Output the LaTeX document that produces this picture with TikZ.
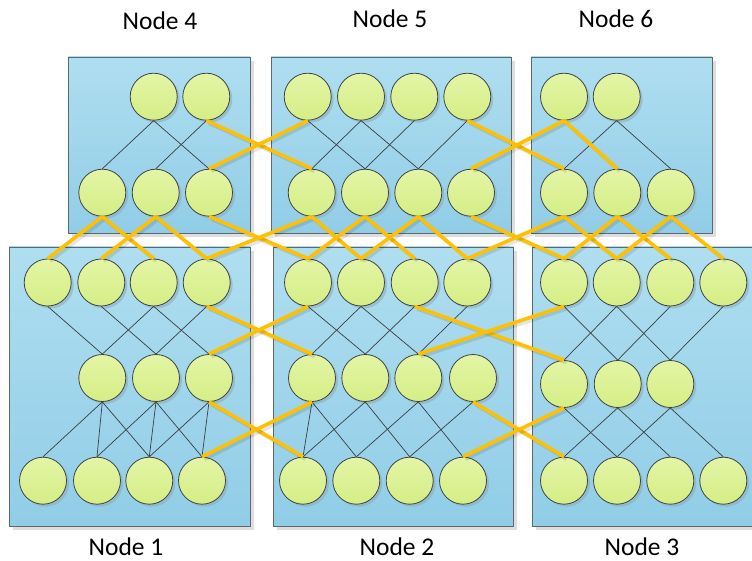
\documentclass[tikz,border=0pt]{standalone}
\usepackage{fontspec}
\setmainfont{Carlito}
\usetikzlibrary{shadows}

\definecolor{panelTop}{HTML}{AFDEF0}
\definecolor{panelBot}{HTML}{91CDE7}
\definecolor{panelEdge}{HTML}{5C686D}
\definecolor{ballTop}{HTML}{E3F5A6}
\definecolor{ballBot}{HTML}{D5EE85}
\definecolor{ballEdge}{HTML}{3F4345}
\definecolor{ballShade}{HTML}{8FA9B5}
\definecolor{wireGray}{HTML}{3A3E40}
\definecolor{linkOrange}{HTML}{FFC000}

\begin{document}
\begin{tikzpicture}[x=1pt,y=-1pt,
  panel/.style={rectangle, draw=panelEdge, line width=0.9pt,
    top color=panelTop, bottom color=panelBot, inner sep=0pt,
    drop shadow={shadow xshift=4pt, shadow yshift=-4pt, fill=black, opacity=0.13}},
  ball/.style={circle, draw=ballEdge, line width=0.8pt, minimum size=47pt,
    inner sep=0pt, top color=ballTop, bottom color=ballBot,
    drop shadow={shadow xshift=2.5pt, shadow yshift=-2.5pt, fill=ballShade, opacity=0.55}},
  wire/.style={draw=wireGray, line width=0.7pt},
  bridge/.style={draw=linkOrange, line width=3.6pt,
    preaction={draw=black, draw opacity=0.1, line width=3.6pt,
      transform canvas={xshift=2.5pt, yshift=-2.5pt}}},
  caption/.style={font=\fontsize{25.5}{28}\selectfont, inner sep=0pt, text=black}
]
\clip (0,0) rectangle (752,561);
\fill[white] (0,0) rectangle (752,561);

% panels
\node[panel, minimum width=182pt, minimum height=176pt] (box4) at (159,145) {};
\node[panel, minimum width=240pt, minimum height=176pt] (box5) at (391,145) {};
\node[panel, minimum width=181pt, minimum height=176pt] (box6) at (621.5,145) {};
\node[panel, minimum width=241pt, minimum height=279pt] (box1) at (129.5,386.5) {};
\node[panel, minimum width=240pt, minimum height=279pt] (box2) at (393,386.5) {};
\node[panel, minimum width=228pt, minimum height=279pt] (box3) at (646,386.5) {};

% captions
\node[caption] (lab4) at (160,21) {Node 4};
\node[caption] (lab5) at (390,19) {Node 5};
\node[caption] (lab6) at (616,19) {Node 6};
\node[caption] (lab1) at (126,547) {Node 1};
\node[caption] (lab2) at (397,547) {Node 2};
\node[caption] (lab3) at (642,547) {Node 3};

% row A
\foreach \n/\x in {a41/153.7, a42/206.3, a51/307.7, a52/361, a53/414.3, a54/467.3, a61/564, a62/616.7}
  \node[ball] (\n) at (\x,96.7) {};
% row B
\foreach \n/\x in {b41/102.3, b42/155.7, b43/209, b51/311.7, b52/365, b53/418.3, b54/471, b61/564, b62/617.3, b63/670.7}
  \node[ball] (\n) at (\x,192.7) {};
% row C
\foreach \n/\x in {c11/47.7, c12/101.3, c13/153.7, c14/206.7, c21/308, c22/361, c23/414.7, c24/467.3, c31/564, c32/616.7, c33/670.3, c34/723.3}
  \node[ball] (\n) at (\x,282.5) {};
% row D
\foreach \n/\x in {d11/102.3, d12/156, d13/209, d21/312, d22/365.3, d23/418.3, d24/473}
  \node[ball] (\n) at (\x,378) {};
\foreach \n/\x in {d31/564, d32/617.7, d33/670.3}
  \node[ball] (\n) at (\x,384) {};
% row E
\foreach \n/\x in {e11/43, e12/97, e13/149.3, e14/202, e21/303, e22/356.3, e23/409.7, e24/463, e31/564, e32/617, e33/670.3, e34/723.3}
  \node[ball] (\n) at (\x,480.7) {};

% links inside each panel
\foreach \s/\t in {a41/b41, a41/b43, a42/b42,
    a51/b52, a52/b51, a52/b53, a53/b52, a54/b53,
    a62/b61, a62/b63,
    c11/d11, c12/d12, c13/d11, c13/d13, c14/d12,
    c21/d22, c22/d21, c22/d23, c23/d22, c24/d23,
    c31/d32, c32/d31, c32/d33, c33/d32, c34/d33,
    d11/e11, d11/e12, d11/e13, d12/e12, d12/e13, d12/e14, d13/e13, d13/e14,
    d21/e21, d21/e22, d22/e21, d22/e23, d23/e22, d23/e24, d24/e23,
    d31/e32, d32/e31, d32/e33, d33/e32, d33/e34}
  \draw[wire] (\s.south) -- (\t.north);

% cross links
\foreach \s/\t in {a42/b51, a51/b43, a54/b61, a61/b54, a61/b62,
    b41/c11, b41/c13, b42/c12, b42/c14, b43/c21, b51/c14, b51/c22,
    b52/c21, b52/c23, b53/c22, b53/c24, b54/c31, b61/c24, b61/c32,
    b62/c31, b62/c33, b63/c32, b63/c34,
    c14/d21, c21/d13, c23/d31, c31/d23,
    d13/e21, d21/e14, d24/e31, d31/e24}
  \draw[bridge] (\s.south) -- (\t.north);
\end{tikzpicture}
\end{document}
